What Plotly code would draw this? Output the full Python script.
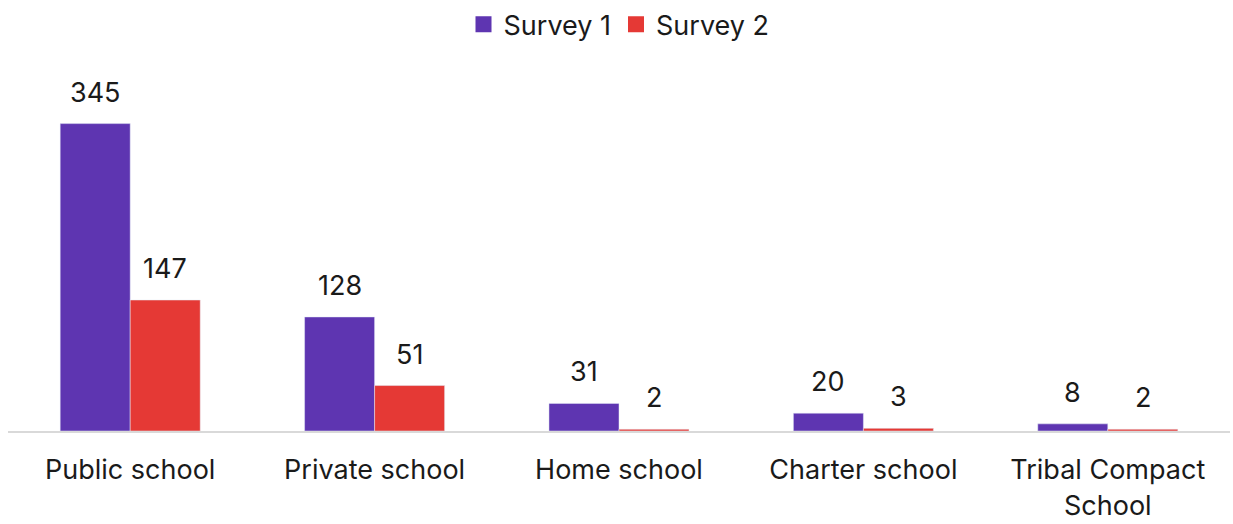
import plotly.graph_objects as go

categories = ["Public school", "Private school", "Home school", "Charter school", "Tribal Compact<br>School"]
survey1 = [345, 128, 31, 20, 8]
survey2 = [147, 51, 2, 3, 2]

PURPLE = "#5E35B1"
RED = "#E53935"
FONT = "Inter, Lato, sans-serif"
TEXT = "#1a1a1a"
BAR_HALF = 35  # half of one bar's pixel width, used to centre value labels

fig = go.Figure()
for name, vals, color, shift in [("Survey 1", survey1, PURPLE, -BAR_HALF),
                                  ("Survey 2", survey2, RED, BAR_HALF)]:
    fig.add_trace(go.Bar(name=name, x=categories, y=vals, marker_color=color,
                         showlegend=False))
    # legend entry with a larger square swatch
    fig.add_trace(go.Scatter(name=name, x=[None], y=[None], mode="markers",
                             marker=dict(symbol="square", size=17, color=color)))
    for cat, v in zip(categories, vals):
        fig.add_annotation(x=cat, y=v, text=str(v), showarrow=False,
                           xshift=shift, yshift=13, yanchor="bottom",
                           font=dict(size=27, color=TEXT, family=FONT))

fig.update_layout(
    width=1233, height=524,
    margin=dict(l=8, r=3, t=0, b=93),
    barmode="group", bargap=0.427, bargroupgap=0,
    plot_bgcolor="white", paper_bgcolor="white",
    font=dict(family=FONT, size=27, color=TEXT),
    legend=dict(orientation="h", x=0.5, xanchor="center", y=0.9536, yanchor="middle",
                font=dict(size=27), itemwidth=30, bgcolor="rgba(0,0,0,0)",
                traceorder="normal", tracegroupgap=0),
    xaxis=dict(showgrid=False, showline=True, linecolor="#d9d9d9", linewidth=2,
               ticks="", tickfont=dict(size=27), ticklabelstandoff=14),
    yaxis=dict(range=[0, 478.1], visible=False, showgrid=False, zeroline=False),
)

fig.write_html("out.html")
